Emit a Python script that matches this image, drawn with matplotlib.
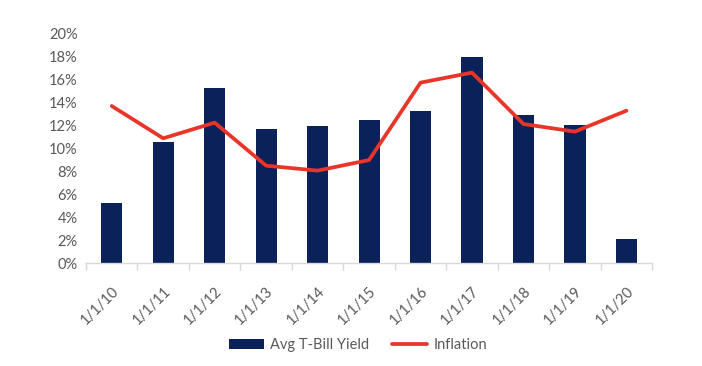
import matplotlib
matplotlib.use("Agg")
import matplotlib.pyplot as plt
import numpy as np
from matplotlib.ticker import FuncFormatter, FixedLocator

categories = ["1/1/10", "1/1/11", "1/1/12", "1/1/13", "1/1/14", "1/1/15",
              "1/1/16", "1/1/17", "1/1/18", "1/1/19", "1/1/20"]
tbill = [5.24, 10.55, 15.24, 11.68, 11.94, 12.46, 13.24, 17.94, 12.9, 12.03, 2.11]
inflation = [13.68, 10.87, 12.23, 8.49, 8.06, 8.98, 15.71, 16.58, 12.11, 11.45, 13.27]

plt.rcParams['font.family'] = ['Lato', 'DejaVu Sans']

fig = plt.figure(figsize=(7.02, 3.66), dpi=100)
ax = fig.add_axes([0.1225, 0.2806, 0.8065, 0.6284])

x = np.arange(len(categories))
bars = ax.bar(x, tbill, width=0.41, color="#0A215A", label="Avg T-Bill Yield", zorder=2)
line, = ax.plot(x, inflation, color="#E8352A", lw=2.7, label="Inflation", zorder=3,
                solid_joinstyle="round", solid_capstyle="round")

ax.set_xlim(-0.5, len(categories) - 0.5)
ax.set_ylim(0, 20)
ax.set_yticks(np.arange(0, 21, 2))
ax.yaxis.set_major_formatter(FuncFormatter(lambda v, p: f"{v:.0f}%"))

ax.xaxis.set_major_locator(FixedLocator(x))
ax.set_xticklabels(categories, rotation=45, ha="right", rotation_mode="anchor")
ax.xaxis.set_minor_locator(FixedLocator(np.arange(-0.5, len(categories), 1)))
ax.tick_params(axis="x", which="major", length=0, pad=15, labelsize=10.5, labelcolor="#595959")
ax.tick_params(axis="x", which="minor", length=5, color="#D9D9D9", width=1)
ax.tick_params(axis="y", length=0, labelsize=10.5, labelcolor="#595959", pad=6)

for s in ["top", "right", "left"]:
    ax.spines[s].set_visible(False)
ax.spines["bottom"].set_color("#D9D9D9")
ax.spines["bottom"].set_linewidth(1)

leg = fig.legend([bars, line], ["Avg T-Bill Yield", "Inflation"],
                 loc="center", bbox_to_anchor=(0.51, 0.057), ncol=2, frameon=False,
                 fontsize=10.5, handlelength=2.4, handleheight=0.6, columnspacing=1.6,
                 handletextpad=0.4)
for t in leg.get_texts():
    t.set_color("#595959")

fig.savefig("out.png", dpi=100)
